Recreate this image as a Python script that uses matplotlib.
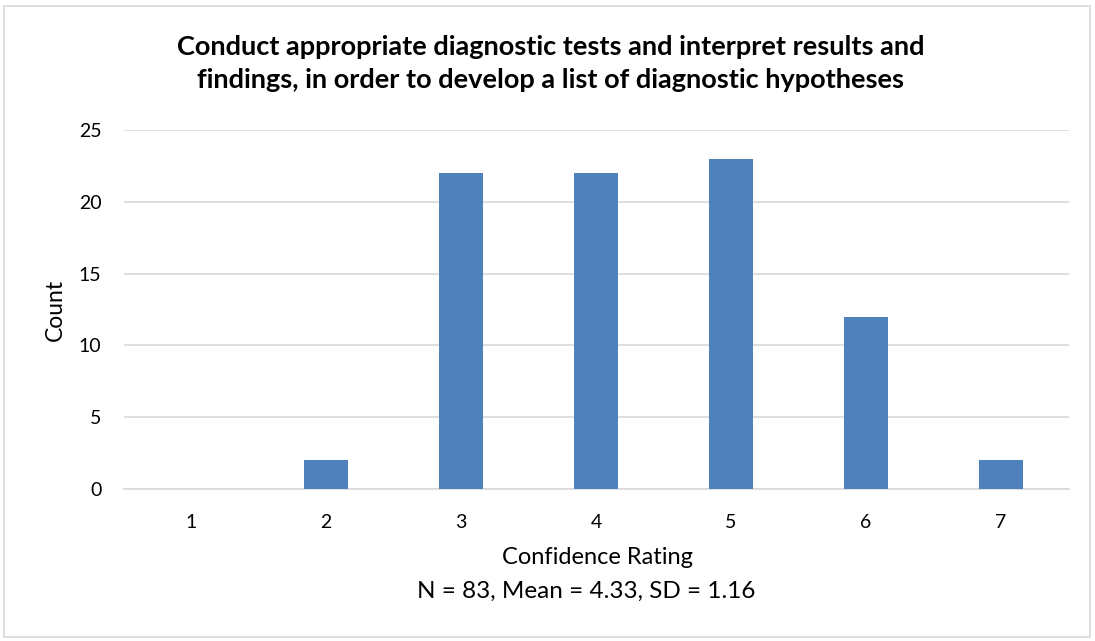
"""Confidence rating histogram, Excel style."""
import matplotlib
import matplotlib.pyplot as plt
from matplotlib.patches import Rectangle

matplotlib.use("Agg")

plt.rcParams["font.family"] = ["Lato", "DejaVu Sans"]

ratings = ["1", "2", "3", "4", "5", "6", "7"]
counts = [0, 2, 22, 22, 23, 12, 2]
y_ticks = [0, 5, 10, 15, 20, 25]
title = ("Conduct appropriate diagnostic tests and interpret results and\n"
         "findings, in order to develop a list of diagnostic hypotheses")
x_label = "Confidence Rating"
summary = "N = 83, Mean = 4.33, SD = 1.16"

fig = plt.figure(figsize=(10.95, 6.41), dpi=100)
ax = fig.add_axes([0.1128, 0.2371, 0.8630, 0.5601])

positions = range(len(ratings))
ax.bar(positions, counts, width=0.32, color="#4f81bd", zorder=3)
ax.set_xlim(-0.5, len(ratings) - 0.5)
ax.set_ylim(0, 25)
ax.set_yticks(y_ticks)
ax.set_xticks(list(positions))
ax.set_xticklabels(ratings)
ax.grid(axis="y", color="#d9d9d9", linewidth=1.2, zorder=0)
for side in ("top", "right", "left"):
    ax.spines[side].set_visible(False)
ax.spines["bottom"].set_color("#d9d9d9")
ax.spines["bottom"].set_linewidth(1.2)
ax.tick_params(length=0, labelsize=14, pad=18)
ax.tick_params(axis="y", pad=16)

ax.set_ylabel("Count", fontsize=16.5, labelpad=9)
fig.text(0.503, 0.901, title, ha="center", va="center", fontsize=19.5,
         fontweight="bold", linespacing=1.45)
fig.text(0.546, 0.131, x_label, ha="center", va="center", fontsize=17)
fig.text(0.535, 0.078, summary, ha="center", va="center", fontsize=17.5)

fig.patches.append(Rectangle((0.004, 0.007), 0.991, 0.984, transform=fig.transFigure,
                             fill=False, edgecolor="#d9d9d9", linewidth=1.2))

fig.savefig("out.png", dpi=100)
